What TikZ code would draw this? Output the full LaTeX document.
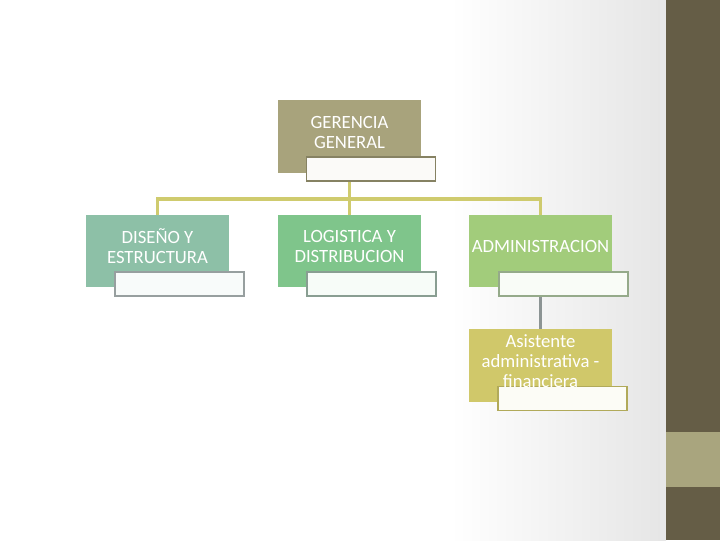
\documentclass[tikz,border=0pt]{standalone}
\usepackage{fontspec}
\setmainfont{Carlito}
\usetikzlibrary{positioning}

\definecolor{gerfill}{HTML}{A8A37C}
\definecolor{disfill}{HTML}{8DC0A7}
\definecolor{logfill}{HTML}{7FC58B}
\definecolor{admfill}{HTML}{A2CC7B}
\definecolor{asifill}{HTML}{D0C86A}
\definecolor{busline}{HTML}{CFCB6E}
\definecolor{subline}{HTML}{8C9494}
\definecolor{stripdark}{HTML}{655D46}
\definecolor{striplight}{HTML}{A9A57E}

\begin{document}
\begin{tikzpicture}[x=0.025cm, y=-0.025cm,
    unit/.style={minimum width=3.575cm, minimum height=1.8cm, inner sep=0pt,
        text=white, align=center, font=\fontsize{13.3}{14.2}\selectfont},
    tag/.style={minimum width=3.225cm, minimum height=0.6cm, inner sep=0pt,
        line width=1.2pt},
    link/.style={busline, line width=2.2pt},
    sublink/.style={subline, line width=2.2pt}]
    \useasboundingbox (0,0) rectangle (720,540);

    % Draw the background and the side strip
    \fill[white] (0,0) rectangle (450,540);
    \shade[left color=white, right color=gray!20] (450,0) rectangle (666,540);
    \fill[gray!18] (660,0) rectangle (666,540);
    \fill[stripdark] (666,0) rectangle (720,540);
    \fill[striplight] (666,432) rectangle (720,487);

    % Draw the boxes
    \node[unit, fill=gerfill] (ger) at (349.5,136.5) {};
    \node[unit, fill=disfill] (dis) at (157.5,251) {};
    \node[unit, fill=logfill] (log) at (349.5,251) {};
    \node[unit, fill=admfill] (adm) at (540.5,251) {};
    \node[unit, fill=asifill] (asi) at (540.5,365.5) {};

    % Draw the connectors
    \coordinate (bus) at (349.5,199);
    \draw[link] (ger.south) -- (bus);
    \draw[link] (bus) -| (dis.north);
    \draw[link] (bus) -- (log.north);
    \draw[link] (bus) -| (adm.north);
    \draw[sublink] (adm.south) -- (asi.north);

    % Draw the tags under each box
    \node[tag, draw=gerfill!80!black, fill=white!95!gerfill] (gertag) at (371,169) {};
    \node[tag, draw=subline!90, fill=white!94!disfill] (distag) at (179.5,284) {};
    \node[tag, draw=subline!80!logfill, fill=white!94!logfill] (logtag) at (371.5,284) {};
    \node[tag, draw=subline!60!admfill, fill=white!94!admfill] (admtag) at (563.5,284) {};
    \node[tag, draw=asifill!85!black, fill=white!94!asifill] (asitag) at (562.5,398.5) {};

    % Box labels
    \node[unit] (gertext) at (349.5,132.5) {GERENCIA\\GENERAL};
    \node[unit] (distext) at (157.5,246.5) {DISEÑO Y\\ESTRUCTURA};
    \node[unit] (logtext) at (349.5,246.5) {LOGISTICA Y\\DISTRIBUCION};
    \node[unit] (admtext) at (540.5,246.5) {ADMINISTRACION};
    \node[unit] (asitext) at (540.5,361) {Asistente\\administrativa -\\financiera};

\end{tikzpicture}
\end{document}
